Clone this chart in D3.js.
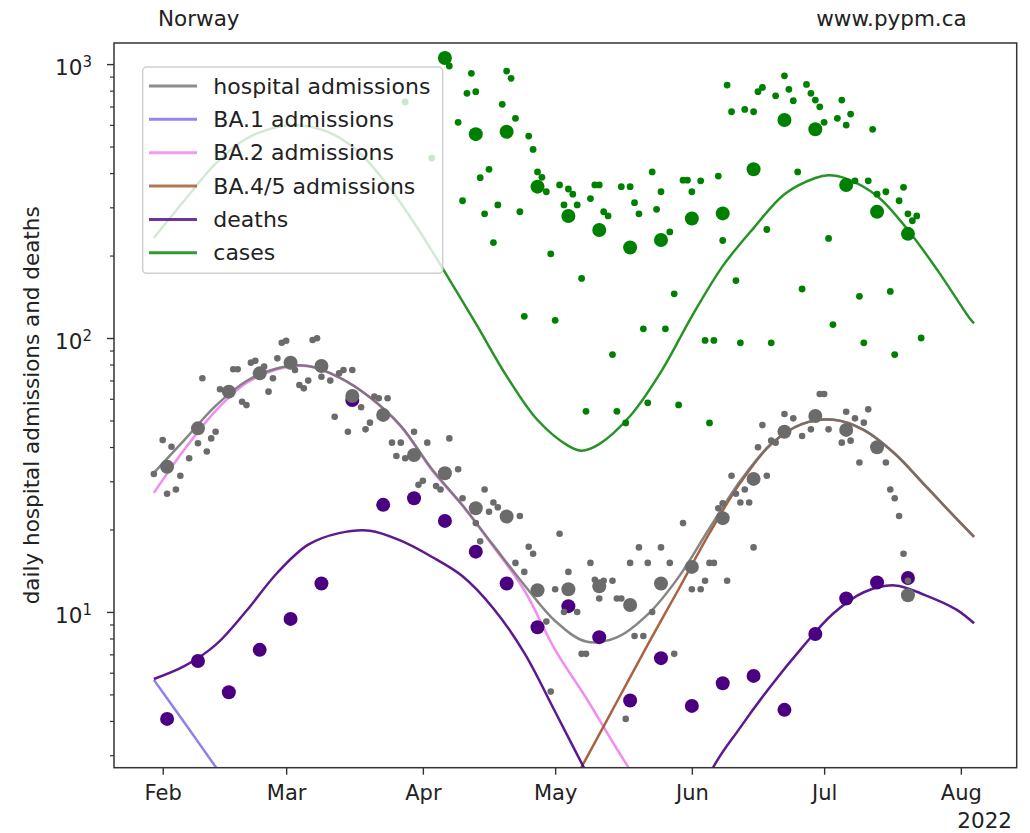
<!DOCTYPE html>
<html>
<head>
<meta charset="utf-8">
<script src="https://cdn.jsdelivr.net/npm/d3@7"></script>
<style>
  body { margin: 0; background: #fff; }
  text { font-family: "DejaVu Sans", sans-serif; fill: #222; }
</style>
</head>
<body>
<svg id="chart" width="1030" height="833"></svg>
<script>
// ---- data (dates are 2022, MM-DD) ----
const casesDaily = [["03-21",1230],["03-28",727],["04-03",454],["04-07",984],["04-09",613],["04-10",317],["04-11",782],["04-12",925],["04-13",793],["04-14",385],["04-15",284],["04-16",413],["04-17",223],["04-18",306],["04-19",713],["04-20",943],["04-21",887],["04-22",634],["04-23",289],["04-24",120],["04-25",546],["04-26",488],["04-27",404],["04-28",386],["04-29",342],["04-30",203],["05-01",116],["05-02",362],["05-03",306],["05-04",350],["05-05",335],["05-06",306],["05-07",165],["05-08",54],["05-09",323],["05-10",362],["05-11",362],["05-12",289],["05-13",279],["05-14",87],["05-15",54],["05-16",357],["05-17",49],["05-18",357],["05-19",312],["05-20",284],["05-21",108],["05-22",58],["05-23",404],["05-24",295],["05-25",342],["05-26",108],["05-27",244],["05-28",145],["05-29",57],["05-30",377],["05-31",377],["06-01",342],["06-03",375],["06-04",98],["06-05",49],["06-06",98],["06-07",390],["06-08",227],["06-09",838],["06-10",670],["06-11",162],["06-12",96],["06-13",683],["06-15",670],["06-16",793],["06-17",822],["06-18",249],["06-19",96],["06-20",766],["06-22",906],["06-23",809],["06-24",735],["06-25",404],["06-26",151],["06-27",843],["06-28",782],["06-29",739],["06-30",698],["07-01",613],["07-02",231],["07-03",112],["07-04",634],["07-05",739],["07-06",599],["07-07",657],["07-08",375],["07-09",142],["07-10",96],["07-11",375],["07-12",578],["07-13",335],["07-15",342],["07-16",148],["07-17",87],["07-18",317],["07-19",355],["07-20",284],["07-21",268],["07-22",279],["07-23",100]];

const weekDates = ["02-02","02-09","02-16","02-23","03-02","03-09","03-16","03-23","03-30","04-06","04-13","04-20","04-27","05-04","05-11","05-18","05-25","06-01","06-08","06-15","06-22","06-29","07-06","07-13","07-20"];
const casesWeekly = [null,null,null,null,null,null,null,null,null,1052,555,566,357,279,248,214,228,273,285,413,625,578,362,289,240];
const hospitalWeekly = [33.9,46.8,63.7,74.3,81.2,79.0,61.4,52.4,37.4,32.1,23.9,22.3,12.0,12.1,12.4,10.6,12.7,14.6,22.0,30.6,45.5,51.9,46.2,39.9,11.5];
const deathsWeekly = [4.07,6.62,5.09,7.27,9.43,12.7,59.4,24.6,26.0,21.5,16.6,12.7,8.79,10.5,8.09,4.75,6.78,4.54,5.49,5.84,4.39,8.31,11.2,12.8,13.3];

const hospitalDaily = [["01-30",31.9],["02-01",42.4],["02-02",27.0],["02-03",40.1],["02-04",28.0],["02-05",31.4],["02-07",36.4],["02-09",41.3],["02-10",71.3],["02-11",38.5],["02-12",43.0],["02-13",45.5],["02-14",65.0],["02-17",76.9],["02-18",76.9],["02-19",58.5],["02-20",56.9],["02-21",81.3],["02-22",82.6],["02-24",78.6],["02-25",63.7],["02-26",71.3],["02-27",84.3],["02-28",96.1],["03-01",97.7],["03-03",76.4],["03-04",67.4],["03-05",65.5],["03-06",69.9],["03-07",98.3],["03-08",99.8],["03-09",72.2],["03-11",69.9],["03-12",51.6],["03-13",74.3],["03-14",76.4],["03-15",45.5],["03-16",76.4],["03-18",55.9],["03-19",46.4],["03-20",49.1],["03-21",61.1],["03-22",60.3],["03-24",60.3],["03-25",41.5],["03-26",37.1],["03-27",41.5],["03-28",36.4],["03-30",45.5],["03-31",29.1],["04-01",30.1],["04-02",41.5],["04-04",28.8],["04-05",28.0],["04-07",43.0],["04-09",33.2],["04-10",26.0],["04-13",21.1],["04-14",18.1],["04-15",28.0],["04-16",23.2],["04-17",25.1],["04-18",24.1],["04-22",15.1],["04-23",22.4],["04-24",14.0],["04-25",17.3],["04-26",16.3],["04-29",9.22],["04-30",5.12],["05-01",12.1],["05-02",19.3],["05-03",10.0],["05-04",14.0],["05-06",10.0],["05-07",7.03],["05-08",7.03],["05-09",15.1],["05-10",13.1],["05-11",11.2],["05-12",13.0],["05-14",13.0],["05-15",11.2],["05-16",11.2],["05-17",4.07],["05-18",15.1],["05-19",8.17],["05-20",17.2],["05-21",8.17],["05-22",15.1],["05-23",10.0],["05-25",17.2],["05-27",15.1],["05-28",7.03],["05-30",21.1],["06-01",12.1],["06-03",12.1],["06-04",13.0],["06-05",15.1],["06-06",15.1],["06-07",23.9],["06-08",24.9],["06-09",13.0],["06-10",31.4],["06-11",27.0],["06-12",25.1],["06-13",28.0],["06-14",25.1],["06-15",17.2],["06-16",39.9],["06-17",48.1],["06-18",31.4],["06-19",42.2],["06-20",41.5],["06-22",52.8],["06-24",50.9],["06-26",43.9],["06-28",46.4],["06-30",62.5],["07-01",62.5],["07-02",46.4],["07-05",41.5],["07-06",53.8],["07-07",42.2],["07-08",50.9],["07-09",35.1],["07-10",49.1],["07-11",54.9],["07-15",35.1],["07-16",28.0],["07-17",26.0],["07-18",22.4],["07-19",16.3],["07-20",13.0]];

// model curves
const hospitalModel = [["01-30",32.2],["02-06",42.6],["02-13",56.5],["02-20",69.7],["02-27",77.6],["03-06",79.1],["03-13",71.9],["03-20",60.8],["03-27",47.8],["04-03",33.3],["04-10",24.5],["04-17",17.5],["04-24",12.55],["05-01",9.27],["05-08",7.80],["05-15",8.07],["05-22",9.79],["05-29",13.4],["06-05",20.2],["06-12",30.1],["06-19",41.1],["06-26",48.6],["07-03",50.4],["07-10",46.2],["07-17",37.9],["07-24",28.9],["07-31",21.9],["08-04",18.8]];
const ba1Model = [["01-30",5.65],["02-06",3.93],["02-13",2.72],["02-20",1.89]];
const ba2Model = [["01-30",27.2],["02-06",39.3],["02-13",54.2],["02-20",68.5],["02-27",76.9],["03-06",78.9],["03-13",71.8],["03-20",60.7],["03-27",47.6],["04-03",33.0],["04-10",24.4],["04-17",17.3],["04-24",12.0],["05-01",7.27],["05-08",4.86],["05-15",3.16],["05-22",2.1]];
const ba45Model = [["05-01",1.81],["05-08",2.91],["05-15",4.7],["05-22",7.6],["05-29",12.1],["06-05",19.4],["06-12",29.6],["06-19",41.0],["06-26",48.5],["07-03",50.3],["07-10",46.1],["07-17",37.8],["07-24",28.8],["07-31",21.9],["08-04",18.8]];
const deathsModel = [["01-30",5.69],["02-06",6.35],["02-13",7.58],["02-20",10.1],["02-27",13.9],["03-06",17.6],["03-13",19.4],["03-20",19.8],["03-27",18.2],["04-03",15.9],["04-10",13.5],["04-17",10.3],["04-24",7.09],["05-01",4.32],["05-08",2.61],["05-15",1.6],["05-22",1.1],["05-29",1.1],["06-05",2.55],["06-12",3.79],["06-19",5.39],["06-26",7.41],["07-03",9.85],["07-10",11.8],["07-17",12.5],["07-24",11.5],["07-31",10.2],["08-04",9.09]];
const casesModel = [["01-30",232],["02-06",319],["02-13",433],["02-20",535],["02-27",589],["03-03",599],["03-10",569],["03-17",485],["03-24",362],["03-31",249],["04-06",174],["04-13",113],["04-20",72.6],["04-27",50.2],["05-04",40.4],["05-07",38.8],["05-11",41.0],["05-18",51.9],["05-25",75.2],["06-01",120],["06-08",183],["06-15",252],["06-22",335],["06-29",384],["07-02",393],["07-06",382],["07-13",330],["07-20",248],["07-27",174],["08-03",118],["08-04",113]];

const legendLabels = ["hospital admissions", "BA.1 admissions", "BA.2 admissions", "BA.4/5 admissions", "deaths", "cases"];
const monthTicks = ["02-01","03-01","04-01","05-01","06-01","07-01","08-01"];
const yMajor = [10, 100, 1000];

// ---- drawing ----
const parse = d3.timeParse("%Y-%m-%d");
const day = s => parse("2022-" + s);

const W = 1030, H = 833;
const pL = 114, pT = 43, pR = 1016.7, pB = 767.7;
const FS = 21.5;

const svg = d3.select("#chart");
svg.append("rect").attr("width", W).attr("height", H).attr("fill", "#fff");

const x = d3.scaleTime()
    .domain([new Date(2022, 0, 20, 23), new Date(2022, 7, 13, 16)])
    .range([pL, pR]);
const y = d3.scaleLog()
    .domain([2.70, 1194])
    .range([pB, pT]);

svg.append("defs").append("clipPath").attr("id", "clip")
    .append("rect")
    .attr("x", pL).attr("y", pT)
    .attr("width", pR - pL).attr("height", pB - pT);

const plot = svg.append("g").attr("clip-path", "url(#clip)");

const line = d3.line()
    .x(d => x(day(d[0])))
    .y(d => y(d[1]))
    .curve(d3.curveCatmullRom.alpha(0.5));

const colors = {
    hosp: "#707070", ba1: "#7b68ee", ba2: "#ee82ee",
    ba45: "#a0522d", deaths: "#4b0082", cases: "#008000"
};

const curves = [
    [ba1Model, colors.ba1, 0.85],
    [ba2Model, colors.ba2, 0.9],
    [ba45Model, colors.ba45, 0.9],
    [hospitalModel, colors.hosp, 0.85],
    [deathsModel, colors.deaths, 0.9],
    [casesModel, colors.cases, 0.85]
];
curves.forEach(([data, c, op]) => {
    plot.append("path")
        .datum(data)
        .attr("d", line)
        .attr("fill", "none")
        .attr("stroke", c)
        .attr("stroke-opacity", op)
        .attr("stroke-width", 2.5);
});

// weekly points helper
const weekly = vals => weekDates.map((d, i) => [d, vals[i]]).filter(d => d[1] != null);

plot.append("g").selectAll("circle")
    .data(weekly(deathsWeekly))
    .join("circle")
    .attr("cx", d => x(day(d[0])))
    .attr("cy", d => y(d[1]))
    .attr("r", 7)
    .attr("fill", colors.deaths);

plot.append("g").selectAll("circle")
    .data(weekly(hospitalWeekly))
    .join("circle")
    .attr("cx", d => x(day(d[0])))
    .attr("cy", d => y(d[1]))
    .attr("r", 7)
    .attr("fill", "#6b6b6b");

plot.append("g").selectAll("circle")
    .data(hospitalDaily)
    .join("circle")
    .attr("cx", d => x(day(d[0])))
    .attr("cy", d => y(d[1]))
    .attr("r", 3.3)
    .attr("fill", "#6b6b6b");

plot.append("g").selectAll("circle")
    .data(weekly(casesWeekly))
    .join("circle")
    .attr("cx", d => x(day(d[0])))
    .attr("cy", d => y(d[1]))
    .attr("r", 7)
    .attr("fill", colors.cases);

plot.append("g").selectAll("circle")
    .data(casesDaily)
    .join("circle")
    .attr("cx", d => x(day(d[0])))
    .attr("cy", d => y(d[1]))
    .attr("r", 3.4)
    .attr("fill", colors.cases);

// legend
const lg = svg.append("g");
lg.append("rect")
    .attr("x", 142.7).attr("y", 67)
    .attr("width", 300).attr("height", 206.3)
    .attr("rx", 4)
    .attr("fill", "#fff").attr("fill-opacity", 0.8)
    .attr("stroke", "#d0d0d0").attr("stroke-width", 1.5);
const legendColors = [colors.hosp, colors.ba1, colors.ba2, colors.ba45, colors.deaths, colors.cases];
legendLabels.forEach((lab, i) => {
    const ly = 86 + i * 33.35;
    lg.append("line")
        .attr("x1", 149).attr("x2", 197)
        .attr("y1", ly).attr("y2", ly)
        .attr("stroke", legendColors[i])
        .attr("stroke-opacity", 0.8)
        .attr("stroke-width", 3);
    lg.append("text")
        .attr("x", 213.3).attr("y", ly + 7.5)
        .attr("font-size", 22)
        .text(lab);
});

// axes
const xAxis = d3.axisBottom(x)
    .tickValues(monthTicks.map(day))
    .tickFormat(d3.timeFormat("%b"))
    .tickSize(7)
    .tickPadding(10);
svg.append("g")
    .attr("transform", `translate(0,${pB})`)
    .call(xAxis)
    .call(g => g.select(".domain").remove())
    .call(g => g.selectAll("line").attr("stroke", "#333").attr("stroke-width", 1.4))
    .call(g => g.selectAll("text").attr("font-size", 21).attr("font-family", "DejaVu Sans").attr("fill", "#222"));

const minor = [];
[1, 10, 100].forEach(b => d3.range(2, 10).forEach(k => minor.push(b * k)));
svg.append("g")
    .attr("transform", `translate(${pL},0)`)
    .call(d3.axisLeft(y).tickValues(minor.filter(v => v >= 2.7 && v <= 1194)).tickFormat("").tickSize(4))
    .call(g => g.select(".domain").remove())
    .call(g => g.selectAll("line").attr("stroke", "#333").attr("stroke-width", 1.2));

const yAxis = d3.axisLeft(y)
    .tickValues(yMajor)
    .tickFormat("")
    .tickSize(7)
    .tickPadding(15);
const yg = svg.append("g")
    .attr("transform", `translate(${pL},0)`)
    .call(yAxis)
    .call(g => g.select(".domain").remove())
    .call(g => g.selectAll("line").attr("stroke", "#333").attr("stroke-width", 1.4));
yg.selectAll(".tick").each(function(v) {
    const t = d3.select(this).select("text")
        .attr("font-size", FS).attr("font-family", "DejaVu Sans").attr("fill", "#222")
        .attr("x", -22).attr("dy", "0.5em");
    t.text("10");
    t.append("tspan")
        .attr("dy", -8).attr("font-size", 15)
        .text(Math.round(Math.log10(v)));
});

// frame
svg.append("rect")
    .attr("x", pL).attr("y", pT)
    .attr("width", pR - pL).attr("height", pB - pT)
    .attr("fill", "none")
    .attr("stroke", "#333").attr("stroke-width", 1.5);

// labels
svg.append("text")
    .attr("transform", `translate(38.5,${(pT + pB) / 2}) rotate(-90)`)
    .attr("text-anchor", "middle")
    .attr("font-size", FS)
    .text("daily hospital admissions and deaths");

svg.append("text").attr("x", 158).attr("y", 25.5).attr("font-size", FS).text("Norway");
svg.append("text").attr("x", 966.7).attr("y", 25.5).attr("text-anchor", "end").attr("font-size", FS).text("www.pypm.ca");
svg.append("text").attr("x", 1012).attr("y", 828).attr("text-anchor", "end").attr("font-size", FS).text("2022");
</script>
</body>
</html>
